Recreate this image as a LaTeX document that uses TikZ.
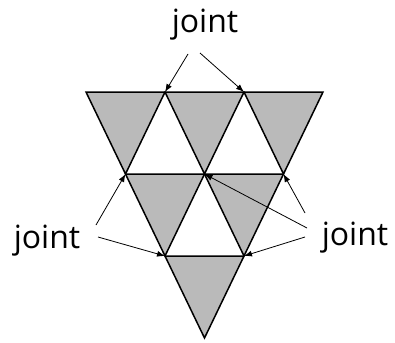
\documentclass[tikz,border=0pt]{standalone}
\usepackage{fontspec}
\setmainfont{Open Sans}
\usetikzlibrary{arrows.meta}
\definecolor{Shade}{HTML}{BABABA}

\begin{document}
\begin{tikzpicture}[x=1pt,y=-1pt]
    \tikzset{
      piece/.style={fill=Shade,draw=black,line width=1.5pt},
      jointtext/.style={font=\fontsize{32}{34}\selectfont,anchor=base,inner sep=0pt},
      pointer/.style={-{Latex[length=8pt,width=6pt]},line width=0.8pt}
    }
    \useasboundingbox (0,0) rectangle (395,342);
    % grid points of the triangle
    \coordinate (a0) at (86,92);
    \coordinate (a1) at (165,92);
    \coordinate (a2) at (244,92);
    \coordinate (a3) at (323,92);
    \coordinate (b0) at (125.5,174);
    \coordinate (b1) at (204.5,174);
    \coordinate (b2) at (283.5,174);
    \coordinate (c0) at (165,256);
    \coordinate (c1) at (244,256);
    \coordinate (d0) at (204.5,338);
    % shaded pieces
    \foreach \p/\q/\r in {a0/a1/b0,a1/a2/b1,a2/a3/b2,b0/b1/c0,b1/b2/c1,c0/c1/d0}
      \draw[piece] (\p) -- (\q) -- (\r) -- cycle;
    % labels
    \node[jointtext] (jtop) at (205,33) {joint};
    \node[jointtext] (jleft) at (47,248) {joint};
    \node[jointtext] (jright) at (355,245) {joint};
    \coordinate (t1) at (188,54);
    \coordinate (t2) at (200,53);
    \coordinate (l1) at (96,225);
    \coordinate (l2) at (98,237);
    \coordinate (r1) at (307,228);
    \coordinate (r2) at (305,213);
    \coordinate (r3) at (305,237);
    \draw[pointer] (t1) -- (a1);
    \draw[pointer] (t2) -- (a2);
    \draw[pointer] (l1) -- (b0);
    \draw[pointer] (l2) -- (c0);
    \draw[pointer] (r1) -- (b1);
    \draw[pointer] (r2) -- (b2);
    \draw[pointer] (r3) -- (c1);
\end{tikzpicture}
\end{document}
